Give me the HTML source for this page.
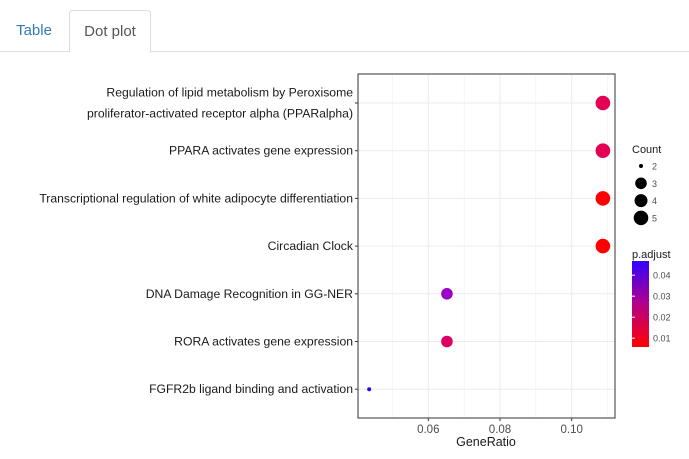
<!DOCTYPE html>
<html><head><meta charset="utf-8"><style>
body{margin:0;width:689px;height:459px;background:#fff;font-family:"Liberation Sans",sans-serif;overflow:hidden;position:relative}
.tab{position:absolute;top:10px;height:41px;font-size:15px;line-height:41px;text-align:center}
</style></head><body>
<div style="position:absolute;left:0;top:51px;width:689px;height:1px;background:#ddd"></div>
<div class="tab" style="left:0;width:68px;color:#337ab7">Table</div>
<div class="tab" style="left:69px;width:80px;border:1px solid #ddd;border-bottom:1px solid #fff;border-radius:4px 4px 0 0;background:#fff;color:#555">Dot plot</div>
<svg id="chart" width="689" height="459" style="position:absolute;left:0;top:0">
<defs><linearGradient id="grad" x1="0" y1="1" x2="0" y2="0">
<stop offset="0" stop-color="#ff0000"/><stop offset="0.5" stop-color="#b4008a"/><stop offset="1" stop-color="#3000ff"/></linearGradient></defs>
</svg>
<script>
const categories=["Regulation of lipid metabolism by Peroxisome|proliferator-activated receptor alpha (PPARalpha)","PPARA activates gene expression","Transcriptional regulation of white adipocyte differentiation","Circadian Clock","DNA Damage Recognition in GG-NER","RORA activates gene expression","FGFR2b ligand binding and activation"];
const geneRatio=[0.1087,0.1087,0.1087,0.1087,0.0652,0.0652,0.0435];
const counts=[5,5,5,5,3,3,2];
const padj=[0.016,0.016,0.006,0.006,0.036,0.018,0.047];
const xTicks=[0.06,0.08,0.10];
const xTickLabels=["0.06","0.08","0.10"];
const xMinor=[0.05,0.07,0.09,0.11];
const sizeLegend=[2,3,4,5];
const colorTicks=[0.01,0.02,0.03,0.04];
const NS="http://www.w3.org/2000/svg";
const svg=document.getElementById('chart');
function el(t,a,p){const e=document.createElementNS(NS,t);for(const k in a)e.setAttribute(k,a[k]);(p||svg).appendChild(e);return e;}
const L=358,R=615,T=74,B=418;
const x=v=>428.3+(v-0.06)*3585;
const y=i=>103+i*47.7;
const r=c=>({2:2,3:5.8,4:6.5,5:7.3})[c]||c*1.45;
const cy=v=>347-(v-0.0058)*2100;
function col(v){let t=(v-0.0058)/(0.0468-0.0058);t=Math.max(0,Math.min(1,t));return `rgb(${Math.round(48+207*Math.pow(1-t,0.5))},0,${Math.round(255*Math.pow(t,0.8))})`;}
let g;
g=el('rect',{x:L,y:T,width:R-L,height:B-T,fill:'#fff'});


xMinor.forEach(v=>{const l=el('line',{x1:x(v),x2:x(v),y1:T,y2:B,stroke:'#f0f0f0','stroke-width':0.6});

});
xTicks.forEach((v,i)=>{const l=el('line',{x1:x(v),x2:x(v),y1:T,y2:B,stroke:'#ebebeb','stroke-width':1});


const tk=el('line',{x1:x(v),x2:x(v),y1:B,y2:B+3,stroke:'#333'});


const t=el('text',{x:x(v),y:B+15,'text-anchor':'middle','font-size':11.5,fill:'#4d4d4d'});t.textContent=xTickLabels[i];

});
categories.forEach((c,i)=>{const l=el('line',{x1:L,x2:R,y1:y(i),y2:y(i),stroke:'#ebebeb'});


const tk=el('line',{x1:L-3,x2:L,y1:y(i),y2:y(i),stroke:'#333'});


const parts=c.split('|');
parts.forEach((p,j)=>{const t=el('text',{x:L-5,y:y(i)+4+(j-(parts.length-1)/2)*21,'text-anchor':'end','font-size':12.2,fill:'#1a1a1a'});t.textContent=p;

});});
g=el('rect',{x:L,y:T,width:R-L,height:B-T,fill:'none',stroke:'#555','stroke-width':1.2});


categories.forEach((c,i)=>{const d=el('circle',{cx:x(geneRatio[i]),cy:y(i),r:r(counts[i]),fill:col(padj[i])});

});
g=el('text',{x:486,y:446,'text-anchor':'middle','font-size':12.5,fill:'#1a1a1a'});g.textContent='GeneRatio';


g=el('text',{x:632,y:153,'font-size':11,fill:'#1a1a1a'});g.textContent='Count';


sizeLegend.forEach((c,i)=>{const yy=166+i*17.3;const d=el('circle',{cx:641,cy:yy,r:r(c),fill:'#000'});


const t=el('text',{x:652,y:yy+3.5,'font-size':9,fill:'#4d4d4d'});t.textContent=c;

});
g=el('text',{x:632,y:258,'font-size':11,fill:'#1a1a1a'});g.textContent='p.adjust';


g=el('rect',{x:632,y:261,width:17,height:86,fill:'url(#grad)'});


colorTicks.forEach(v=>{const t=el('text',{x:653,y:cy(v)+3.5,'font-size':9,fill:'#4d4d4d'});t.textContent=v.toFixed(2);


const l=el('line',{x1:632,x2:635,y1:cy(v),y2:cy(v),stroke:'#fff'});

});
</script>
</body></html>
